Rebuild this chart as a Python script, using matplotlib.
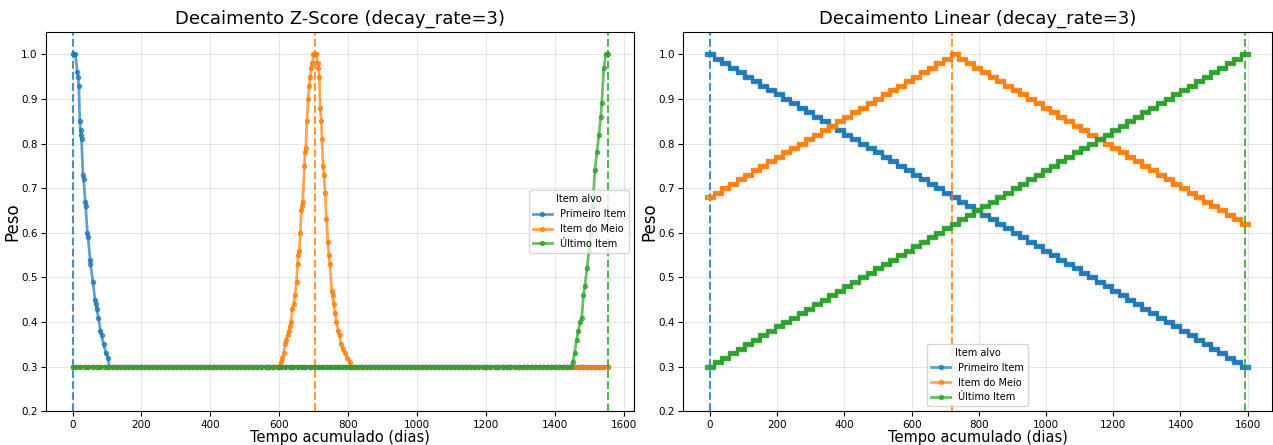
import matplotlib
matplotlib.use("Agg")
import matplotlib.pyplot as plt

# --- dados ---
itens = ["Primeiro Item", "Item do Meio", "Último Item"]
cores = ["#1f77b4", "#ff7f0e", "#2ca02c"]

# Z-Score: dias dos itens alvo
alvos_z = [0, 704, 1553]

# pontos da base (peso 0.30)
dias_base_z = [0, 11, 22, 35, 46, 58, 70, 81, 93, 104, 117, 128, 140, 151, 163, 175,
               186, 198, 210, 221, 233, 245, 256, 268, 280, 291, 303, 315, 326, 338,
               350, 361, 373, 385, 396, 408, 420, 431, 443, 455, 466, 478, 490, 501,
               513, 525, 536, 548, 560, 571, 583, 595, 606, 618, 630, 641, 653, 665,
               676, 688, 700, 711, 723, 735, 746, 758, 770, 781, 793, 805, 816, 828,
               840, 851, 863, 875, 886, 898, 910, 921, 933, 945, 956, 968, 980, 991,
               1003, 1015, 1026, 1038, 1050, 1061, 1073, 1085, 1096, 1108, 1120, 1131,
               1143, 1155, 1166, 1178, 1190, 1201, 1213, 1225, 1236, 1248, 1260, 1271,
               1283, 1295, 1306, 1318, 1330, 1341, 1353, 1365, 1376, 1388, 1400, 1411,
               1423, 1435, 1446, 1458, 1470, 1481, 1493, 1505, 1516, 1528, 1540, 1553]
peso_base_z = 0.30

pico_dias_primeiro = [0, 8, 14, 16, 18, 21, 23, 24, 26, 30, 32, 37, 38, 43, 45, 51, 52,
                      59, 65, 68, 70, 75, 81, 84, 90, 97, 102, 107]
pico_pesos_primeiro = [1.00, 1.00, 0.96, 0.95, 0.93, 0.85, 0.83, 0.82, 0.81, 0.73, 0.72,
                       0.67, 0.66, 0.60, 0.59, 0.54, 0.53, 0.49, 0.45, 0.44, 0.43, 0.41,
                       0.38, 0.37, 0.35, 0.33, 0.32, 0.30]

pico_dias_meio = [600, 605, 609, 613, 617, 620, 624, 628, 631, 634, 638, 642, 646, 650,
                  653, 655, 658, 661, 664, 666, 668, 673, 675, 677, 680, 684, 687, 690,
                  693, 696, 699, 704, 708, 711, 713, 716, 719, 722, 724, 727, 730, 733,
                  737, 741, 744, 747, 752, 755, 758, 762, 766, 771, 775, 779, 785, 791,
                  797, 804, 810]
pico_pesos_meio = [0.30, 0.31, 0.32, 0.33, 0.35, 0.36, 0.37, 0.38, 0.39, 0.40, 0.43,
                   0.44, 0.46, 0.49, 0.53, 0.55, 0.56, 0.60, 0.65, 0.66, 0.67, 0.75,
                   0.78, 0.79, 0.85, 0.90, 0.93, 0.95, 0.97, 0.98, 1.00, 1.00, 1.00,
                   0.98, 0.97, 0.95, 0.88, 0.85, 0.81, 0.75, 0.73, 0.69, 0.63, 0.58,
                   0.55, 0.53, 0.47, 0.46, 0.44, 0.42, 0.40, 0.38, 0.37, 0.35, 0.34,
                   0.33, 0.32, 0.31, 0.30]

pico_dias_ultimo = [1446, 1452, 1457, 1463, 1468, 1473, 1478, 1483, 1487, 1493, 1499,
                    1504, 1510, 1516, 1522, 1528, 1533, 1536, 1542, 1548, 1553]
pico_pesos_ultimo = [0.30, 0.31, 0.33, 0.36, 0.38, 0.40, 0.41, 0.46, 0.48, 0.52, 0.56,
                     0.60, 0.66, 0.74, 0.78, 0.82, 0.86, 0.89, 0.97, 1.00, 1.00]

# Linear: dias dos itens alvo e centro de cada degrau
alvos_lin = [0, 720, 1592]
dias_lin = [0, 23, 45, 68, 91, 114, 136, 159, 182, 205, 227, 250, 273, 296, 318, 341,
            364, 387, 409, 432, 455, 478, 500, 523, 546, 569, 591, 614, 637, 660, 682,
            705, 728, 751, 773, 796, 819, 842, 864, 887, 910, 932, 955, 978, 1001, 1023,
            1046, 1069, 1092, 1114, 1137, 1160, 1183, 1205, 1228, 1251, 1274, 1296, 1319,
            1342, 1365, 1387, 1410, 1433, 1456, 1478, 1501, 1524, 1547, 1569, 1592]
pesos_lin_primeiro = [1.00, 0.99, 0.98, 0.97, 0.96, 0.95, 0.94, 0.93, 0.92, 0.91,
                      0.90, 0.89, 0.88, 0.87, 0.86, 0.85, 0.84, 0.83, 0.82, 0.81,
                      0.80, 0.79, 0.78, 0.77, 0.76, 0.75, 0.74, 0.73, 0.72, 0.71,
                      0.70, 0.69, 0.68, 0.67, 0.66, 0.65, 0.64, 0.63, 0.62, 0.61,
                      0.60, 0.59, 0.58, 0.57, 0.56, 0.55, 0.54, 0.53, 0.52, 0.51,
                      0.50, 0.49, 0.48, 0.47, 0.46, 0.45, 0.44, 0.43, 0.42, 0.41,
                      0.40, 0.39, 0.38, 0.37, 0.36, 0.35, 0.34, 0.33, 0.32, 0.31,
                      0.30]
pesos_lin_meio = [0.68, 0.69, 0.70, 0.71, 0.72, 0.73, 0.74, 0.75, 0.76, 0.77,
                  0.78, 0.79, 0.80, 0.81, 0.82, 0.83, 0.84, 0.85, 0.86, 0.87,
                  0.88, 0.89, 0.90, 0.91, 0.92, 0.93, 0.94, 0.95, 0.96, 0.97,
                  0.98, 0.99, 1.00, 0.99, 0.98, 0.97, 0.96, 0.95, 0.94, 0.93,
                  0.92, 0.91, 0.90, 0.89, 0.88, 0.87, 0.86, 0.85, 0.84, 0.83,
                  0.82, 0.81, 0.80, 0.79, 0.78, 0.77, 0.76, 0.75, 0.74, 0.73,
                  0.72, 0.71, 0.70, 0.69, 0.68, 0.67, 0.66, 0.65, 0.64, 0.63,
                  0.62]
pesos_lin_ultimo = [0.30, 0.31, 0.32, 0.33, 0.34, 0.35, 0.36, 0.37, 0.38, 0.39,
                    0.40, 0.41, 0.42, 0.43, 0.44, 0.45, 0.46, 0.47, 0.48, 0.49,
                    0.50, 0.51, 0.52, 0.53, 0.54, 0.55, 0.56, 0.57, 0.58, 0.59,
                    0.60, 0.61, 0.62, 0.63, 0.64, 0.65, 0.66, 0.67, 0.68, 0.69,
                    0.70, 0.71, 0.72, 0.73, 0.74, 0.75, 0.76, 0.77, 0.78, 0.79,
                    0.80, 0.81, 0.82, 0.83, 0.84, 0.85, 0.86, 0.87, 0.88, 0.89,
                    0.90, 0.91, 0.92, 0.93, 0.94, 0.95, 0.96, 0.97, 0.98, 0.99,
                    1.00]


def junta_base(pico_d, pico_p):
	# pico + pontos da base fora do intervalo do pico
	pts = list(zip(pico_d, pico_p))
	for d in dias_base_z:
		if d < min(pico_d) or d > max(pico_d):
			pts.append((d, peso_base_z))
	pts.sort()
	return [p[0] for p in pts], [p[1] for p in pts]


series_z = [junta_base(pico_dias_primeiro, pico_pesos_primeiro),
            junta_base(pico_dias_meio, pico_pesos_meio),
            junta_base(pico_dias_ultimo, pico_pesos_ultimo)]
series_lin = [pesos_lin_primeiro, pesos_lin_meio, pesos_lin_ultimo]

# marcador largo para imitar os degraus cheios de pontos
degrau = [(-2.2, -1), (2.2, -1), (2.2, 1), (-2.2, 1), (-2.2, -1)]

fig, axs = plt.subplots(1, 2, figsize=(12.73, 4.45), dpi=100)
fig.subplots_adjust(left=0.036, right=0.999, bottom=0.076, top=0.928, wspace=0.083)

ax = axs[0]
for i in range(3):
	x, y = series_z[i]
	ax.plot(x, y, marker='o', markersize=3, linewidth=2, alpha=0.7,
	        color=cores[i], label=itens[i])
	ax.axvline(alvos_z[i], color=cores[i], linestyle='--', linewidth=1.5, alpha=0.8)
ax.set_title("Decaimento Z-Score (decay_rate=3)", fontsize=13)
ax.legend(title="Item alvo", loc='center right', fontsize=7, title_fontsize=7)

ax = axs[1]
for i in range(3):
	ax.plot(dias_lin, series_lin[i], marker=degrau, markersize=6.5, linewidth=2,
	        alpha=0.85, color=cores[i], drawstyle='steps-mid')
	ax.axvline(alvos_lin[i], color=cores[i], linestyle='--', linewidth=1.5, alpha=0.8)
	ax.plot([], [], marker='o', markersize=3, linewidth=2, alpha=0.7,
	        color=cores[i], label=itens[i])
ax.set_title("Decaimento Linear (decay_rate=3)", fontsize=13)
ax.legend(title="Item alvo", loc='lower center', fontsize=7, title_fontsize=7)

for ax in axs:
	ax.set_ylim(0.2, 1.05)
	ax.set_xticks([0, 200, 400, 600, 800, 1000, 1200, 1400, 1600])
	ax.set_xlabel("Tempo acumulado (dias)", fontsize=10.5, labelpad=0)
	ax.set_ylabel("Peso", fontsize=12, labelpad=0)
	ax.tick_params(labelsize=7.5, pad=2.5)
	ax.grid(True, alpha=0.3)

plt.savefig("out.png")
